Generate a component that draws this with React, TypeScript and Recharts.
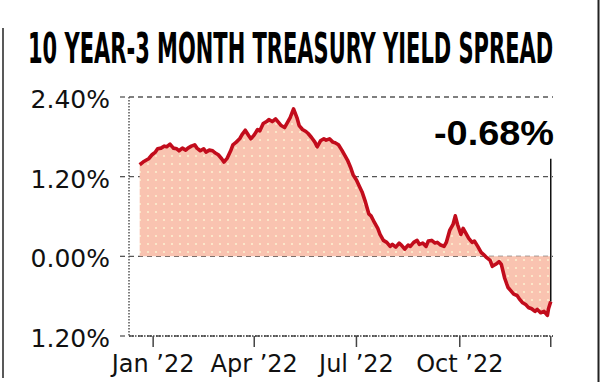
import React, { useLayoutEffect, useRef, useState } from "react";
import { AreaChart, Area, XAxis, YAxis, CartesianGrid, ReferenceLine } from "recharts";

// day of year 2022 (0 = Jan 1)
const days = [
  2, 5, 8, 10, 13, 16, 18, 21, 24, 26, 29, 32, 35, 37, 40, 43, 45, 48, 51, 53,
  56, 59, 61, 64, 67, 69, 72, 75, 77, 80, 83, 85, 88, 91, 93, 96, 99, 101, 104, 107,
  109, 112, 115, 117, 120, 123, 126, 128, 131, 134, 136, 139, 142, 144, 147, 150, 152, 155, 158, 160,
  163, 166, 168, 171, 174, 176, 179, 182, 184, 187, 190, 192, 195, 198, 200, 203, 206, 208, 211, 214,
  216, 219, 222, 225, 227, 230, 233, 235, 238, 241, 243, 246, 249, 251, 254, 257, 259, 262, 265, 267,
  270, 273, 275, 278, 281, 283, 285, 288, 290, 292, 295, 298, 300, 303, 306, 308, 311, 314, 316, 319,
  322, 324, 327, 330, 332, 335, 338, 340, 343, 346, 348, 351, 354, 356, 359, 362, 365, 366, 368,
];

// 10Y-3M spread, %
const spread = [
  1.38, 1.42, 1.45, 1.47, 1.53, 1.57, 1.62, 1.63, 1.66, 1.65, 1.69, 1.63, 1.62, 1.59, 1.63, 1.6, 1.63, 1.66, 1.68, 1.63,
  1.59, 1.62, 1.57, 1.6, 1.59, 1.56, 1.53, 1.47, 1.42, 1.48, 1.59, 1.68, 1.72, 1.77, 1.83, 1.9, 1.82, 1.77, 1.83, 1.91,
  1.89, 2.0, 2.03, 2.06, 2.03, 2.07, 2.01, 1.97, 1.94, 2.03, 2.09, 2.22, 2.09, 1.97, 1.91, 1.88, 1.85, 1.79, 1.72, 1.65,
  1.74, 1.77, 1.75, 1.77, 1.72, 1.71, 1.68, 1.6, 1.54, 1.45, 1.33, 1.23, 1.15, 1.04, 0.97, 0.82, 0.64, 0.61, 0.51, 0.42,
  0.33, 0.24, 0.21, 0.15, 0.18, 0.14, 0.2, 0.17, 0.11, 0.17, 0.15, 0.21, 0.24, 0.18, 0.2, 0.15, 0.23, 0.24, 0.2, 0.21,
  0.17, 0.15, 0.21, 0.39, 0.48, 0.61, 0.48, 0.33, 0.42, 0.36, 0.27, 0.21, 0.23, 0.15, 0.06, 0.03, -0.02, -0.06, -0.15, -0.12,
  -0.08, -0.12, -0.33, -0.47, -0.51, -0.57, -0.59, -0.64, -0.7, -0.73, -0.77, -0.79, -0.83, -0.8, -0.85, -0.83, -0.89, -0.79, -0.68,
];

const yTicks = [-1.2, 0, 1.2, 2.4];
const yTickLabels = ["1.20%", "0.00%", "1.20%", "2.40%"];
const xTicks = [14, 104, 195, 287, 368];
const xTickLabels = ["Jan \u201922", "Apr \u201922", "Jul \u201922", "Oct \u201922", ""];

const title = "10 YEAR-3 MONTH TREASURY YIELD SPREAD";
const lastLabel = "-0.68%";
const lastLineTop = 1.47;

const data = days.map((d, i) => ({ d, v: spread[i] }));
const lastDay = days[days.length - 1];
const lastVal = spread[spread.length - 1];

const YTick = (props: any) => {
  const { x, y, payload } = props;
  const idx = yTicks.indexOf(payload.value);
  return (
    <text x={x} y={y} dy={11} textAnchor="end" fontFamily="'DejaVu Sans', sans-serif" fontSize={25} fill="#111">
      {idx >= 0 ? yTickLabels[idx] : ""}
    </text>
  );
};

const XTick = (props: any) => {
  const { x, y, payload } = props;
  const idx = xTicks.indexOf(payload.value);
  return (
    <text x={x} y={y} dy={18} textAnchor="middle" fontFamily="'DejaVu Sans', sans-serif" fontSize={24} fill="#111">
      {idx >= 0 ? xTickLabels[idx] : ""}
    </text>
  );
};

function FittedText(props: { x: number; y: number; width: number; size: number; family: string; anchorEnd?: boolean; children: string }) {
  const ref = useRef<SVGTextElement>(null);
  const [sx, setSx] = useState(0);
  useLayoutEffect(() => {
    if (ref.current) {
      const w = ref.current.getComputedTextLength();
      if (w > 0) setSx(props.width / w);
    }
  }, []);
  const tx = props.anchorEnd ? props.x - props.width : props.x;
  return (
    <text
      ref={ref}
      x={0}
      y={0}
      transform={`translate(${tx},${props.y}) scale(${sx || 0.001},1)`}
      fontFamily={props.family}
      fontWeight="bold"
      fontSize={props.size}
      fill="#000"
      style={{ visibility: sx ? "visible" : "hidden" }}
    >
      {props.children}
    </text>
  );
}

export default function App() {
  return (
    <div style={{ position: "absolute", left: 0, top: 0, width: 600, height: 382, background: "#fff", overflow: "hidden" }}>
      <svg width={600} height={382} style={{ position: "absolute", left: 0, top: 0 }}>
        <line x1={3} y1={28} x2={3} y2={378} stroke="#222" strokeWidth={1.5} />
        <line x1={598.5} y1={0} x2={598.5} y2={382} stroke="#222" strokeWidth={2} />
        <FittedText x={28} y={63} width={525} size={42} family="'Liberation Sans Narrow', 'DejaVu Sans Condensed', 'Liberation Sans', sans-serif">
          {title}
        </FittedText>
        <FittedText x={554} y={145} width={120} size={35} anchorEnd family="'Liberation Sans', Arial, sans-serif">
          {lastLabel}
        </FittedText>
      </svg>
      <div style={{ position: "absolute", left: 0, top: 0 }}>
        <AreaChart width={600} height={382} data={data} margin={{ top: 97, right: 47, bottom: 6, left: 0 }}>
          <defs>
            <pattern id="dots" x={0} y={0} width={8} height={8} patternUnits="userSpaceOnUse">
              <rect x={0} y={0} width={8} height={8} fill="#f9c3b0" />
              <circle cx={4} cy={4} r={1.1} fill="#fcefcf" />
            </pattern>
          </defs>
          <CartesianGrid vertical={false} stroke="#555" strokeWidth={1.3} strokeDasharray="5 4" />
          <XAxis
            dataKey="d"
            type="number"
            domain={[-7.5, 370]}
            ticks={xTicks}
            interval={0}
            height={40}
            tickSize={11}
            tickMargin={7}
            axisLine={{ stroke: "#444", strokeDasharray: "1.5 1.5", strokeWidth: 1.5 }}
            tickLine={{ stroke: "#444", strokeWidth: 1.5 }}
            tick={<XTick />}
          />
          <YAxis
            type="number"
            domain={[-1.2, 2.4]}
            ticks={yTicks}
            interval={0}
            width={129}
            tickSize={9}
            tickMargin={10}
            axisLine={{ stroke: "#555", strokeDasharray: "1.5 1.5", strokeWidth: 1.5 }}
            tickLine={{ stroke: "#555", strokeWidth: 1.3, strokeDasharray: "5 4" }}
            tick={<YTick />}
          />
          <Area
            type="linear"
            dataKey="v"
            baseValue={0}
            stroke="#c20c1c"
            strokeWidth={3.6}
            strokeLinejoin="round"
            fill="url(#dots)"
            fillOpacity={1}
            dot={false}
            activeDot={false}
            isAnimationActive={false}
          />
          <ReferenceLine
            segment={[
              { x: lastDay, y: lastVal },
              { x: lastDay, y: lastLineTop },
            ]}
            stroke="#111"
            strokeWidth={1.5}
          />
        </AreaChart>
      </div>
    </div>
  );
}
